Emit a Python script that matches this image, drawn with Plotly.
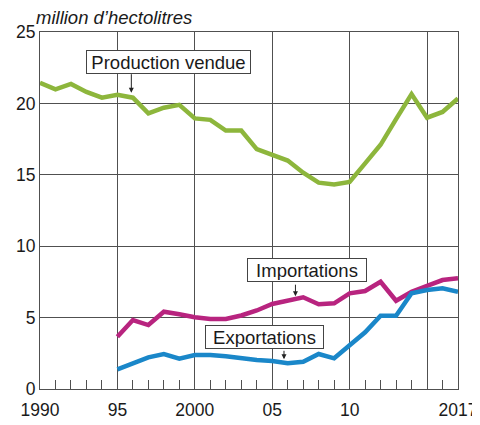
import plotly.graph_objects as go

years_prod = list(range(1990, 2018))
production = [21.45, 20.98, 21.36, 20.8, 20.4, 20.6, 20.4, 19.3, 19.7, 19.9,
              18.95, 18.85, 18.1, 18.1, 16.8, 16.4, 16.0, 15.15, 14.45, 14.33,
              14.5, 15.8, 17.1, 18.9, 20.65, 19.0, 19.4, 20.35]

years_trade = list(range(1995, 2018))
importations = [3.66, 4.83, 4.48, 5.41, 5.23, 5.02, 4.9, 4.9, 5.15, 5.5,
                5.95, 6.16, 6.42, 5.93, 6.0, 6.7, 6.86, 7.51, 6.18, 6.81,
                7.21, 7.63, 7.75]
exportations = [1.38, 1.8, 2.22, 2.45, 2.12, 2.38, 2.38, 2.3, 2.15, 2.03,
                1.96, 1.8, 1.91, 2.45, 2.15, 3.08, 3.97, 5.13, 5.13, 6.7,
                6.93, 7.05, 6.81]

x_tickvals = [1990, 1995, 2000, 2005, 2010, 2015, 2017]
x_ticktext = ["1990", "95", "2000", "05", "10", "", "2017"]
y_tickvals = [0, 5, 10, 15, 20, 25]

GREEN = "#8db63c"
PINK = "#b8247f"
BLUE = "#1a87c9"
GRID = "#505050"
TXT = "#1a1a1a"
FONT = "Liberation Sans, Arial, sans-serif"

fig = go.Figure()
fig.add_trace(go.Scatter(x=years_prod, y=production, mode="lines",
                         line=dict(color=GREEN, width=4.5), name="Production vendue"))
fig.add_trace(go.Scatter(x=years_trade, y=importations, mode="lines",
                         line=dict(color=PINK, width=4.5), name="Importations"))
fig.add_trace(go.Scatter(x=years_trade, y=exportations, mode="lines",
                         line=dict(color=BLUE, width=4.5), name="Exportations"))

# (text, box centre x, box centre y, box width, arrow tip x, arrow tip y, arrow length px)
labels = [
    ("Production vendue", 1998.33, 22.93, 161, 1995.9, 20.75, -20),
    ("Importations", 2007.25, 8.3, 116, 2006.5, 6.5, -13),
    ("Exportations", 2004.49, 3.63, 115, 2005.76, 2.08, -10),
]
annotations = []
for text, tx, ty, bw, axx, ayy, off in labels:
    annotations.append(dict(x=tx, y=ty, xref="x", yref="y", text=text, showarrow=False,
                            width=bw, height=20, align="center", valign="middle",
                            font=dict(size=18.5, color=TXT, family=FONT),
                            bgcolor="white", bordercolor="#444", borderwidth=1, borderpad=1))
    annotations.append(dict(x=axx, y=ayy, xref="x", yref="y", text="", showarrow=True,
                            ax=0, ay=off, arrowhead=2, arrowsize=1, arrowwidth=1,
                            arrowcolor="#222"))
annotations.append(dict(x=-0.012, y=1.041, xref="paper", yref="paper", xanchor="left", yanchor="middle",
                        text="<i>million d’hectolitres</i>", showarrow=False, borderpad=0,
                        font=dict(size=18.5, color=TXT, family=FONT)))

# page body has an 8px margin, so the figure is sized to fit the 480x425 window
fig.update_layout(
    width=472, height=417,
    margin=dict(l=32, r=22, t=24, b=36, pad=0, autoexpand=False),
    paper_bgcolor="white", plot_bgcolor="white",
    showlegend=False,
    font=dict(family=FONT, color=TXT, size=17.5),
    annotations=annotations,
    xaxis=dict(range=[1990, 2017], tickvals=x_tickvals, ticktext=x_ticktext,
               automargin=False,
               showgrid=True, gridcolor=GRID, gridwidth=1,
               showline=True, linecolor=GRID, linewidth=1, mirror=True,
               ticks="inside", ticklen=9, tickcolor=GRID,
               ticklabelstandoff=5,
               minor=dict(dtick=1, tick0=1990, ticks="inside", ticklen=9, tickcolor=GRID, showgrid=False),
               tickfont=dict(size=17.5, color=TXT), zeroline=False),
    yaxis=dict(range=[0, 25], tickvals=y_tickvals, automargin=False,
               showgrid=True, gridcolor=GRID, gridwidth=1,
               showline=True, linecolor=GRID, linewidth=1, mirror=True,
               ticks="", tickfont=dict(size=17.5, color=TXT), zeroline=False),
)

fig.write_html("out.html")
